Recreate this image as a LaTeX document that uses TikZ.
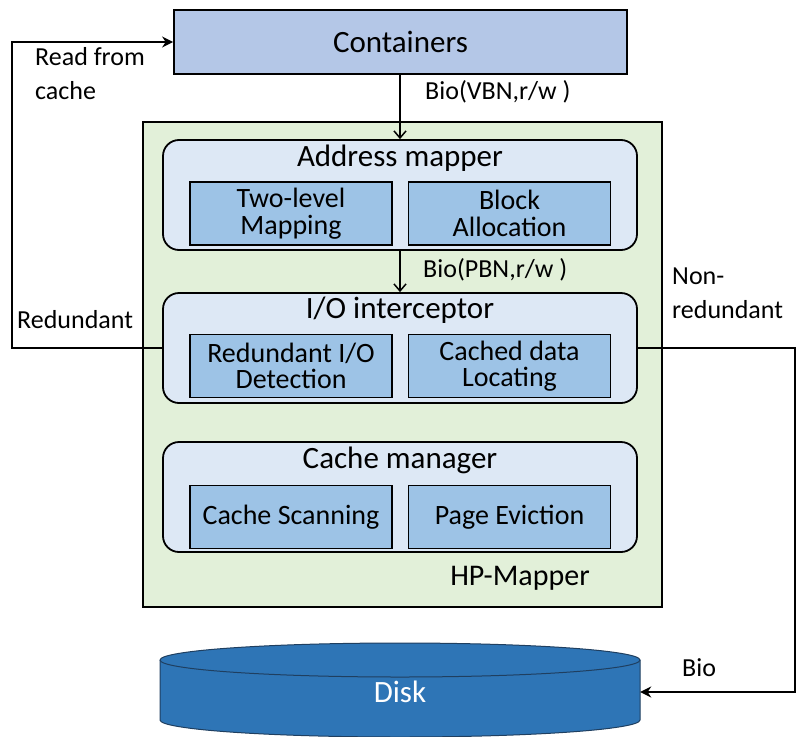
\documentclass[tikz,border=0pt]{standalone}
\usepackage{fontspec}
\setmainfont{Carlito}
\usetikzlibrary{positioning,arrows.meta}

\definecolor{contblue}{HTML}{B4C7E7}
\definecolor{mappergreen}{HTML}{E2F0D9}
\definecolor{layerblue}{HTML}{DDE8F5}
\definecolor{partblue}{HTML}{9DC3E6}
\definecolor{diskblue}{HTML}{2E75B6}
\definecolor{diskedge}{HTML}{1F3F60}

\begin{document}
\begin{tikzpicture}[x=1pt, y=-1pt,
    bigfont/.style={font=\fontsize{31}{34}\selectfont},
    labelfont/.style={font=\fontsize{26}{34}\selectfont, inner sep=0pt},
    layer/.style={draw, line width=1.8pt, fill=layerblue, rounded corners=16pt,
        minimum width=474, minimum height=110, inner sep=0pt},
    part/.style={draw, line width=1.8pt, fill=partblue, minimum width=202,
        minimum height=63, inner sep=0pt, align=center,
        font=\fontsize{28}{26.5}\selectfont},
    flow/.style={line width=1.5pt, -{Straight Barb[length=7pt, width=12pt, line width=1.5pt]}},
    side/.style={line width=1.5pt, -{Stealth[length=11pt, width=11pt]}}
]
    \useasboundingbox (0,0) rectangle (799,736);

    % Containers on top
    \node[draw, line width=1.8pt, fill=contblue, minimum width=453, minimum height=64,
        inner sep=0pt, bigfont] (cont) at (400.5,42) {Containers};

    % HP-Mapper frame
    \node[draw, line width=1.8pt, fill=mappergreen, minimum width=519, minimum height=485,
        inner sep=0pt] (hpm) at (402.5,364.5) {};
    \node[font=\fontsize{30}{32}\selectfont] (hpmname) at (520,578) {HP-Mapper};

    % Address mapper
    \node[layer] (addr) at (400,195) {};
    \node[bigfont] (addrtitle) at (400,158) {Address mapper};
    \node[part] (twolevel) at (291,213.5) {Two-level\\Mapping};
    \node[part] (alloc) at (509.5,213.5) {Block\\Allocation};

    % I/O interceptor
    \node[layer] (io) at (400,348) {};
    \node[bigfont] (iotitle) at (400,310) {I/O interceptor};
    \node[part] (detect) at (291,366) {Redundant I/O\\Detection};
    \node[part] (locate) at (509.5,366) {Cached data\\Locating};

    % Cache manager
    \node[layer] (cachem) at (400,497) {};
    \node[bigfont] (cachetitle) at (400,460) {Cache manager};
    \node[part] (scan) at (291,517) {Cache Scanning};
    \node[part] (evict) at (509.5,517) {Page Eviction};

    % Disk
    \fill[diskblue, draw=diskedge, line width=1pt] (160,660) -- (160,720)
        arc[start angle=180, end angle=360, x radius=240pt, y radius=17pt] -- (640,660)
        arc[start angle=0, end angle=180, x radius=240pt, y radius=17pt] -- cycle;
    \draw[diskedge, line width=1pt] (160,660)
        arc[start angle=180, end angle=360, x radius=240pt, y radius=17pt];
    \node[minimum width=480, minimum height=60, inner sep=0pt, text=white,
        font=\fontsize{31}{34}\selectfont] (disk) at (400,692) {Disk};

    % Bio flow downwards
    \draw[flow] (cont.south -| addr.north) -- (addr.north);
    \draw[flow] (addr.south) -- (io.north);
    \node[labelfont, anchor=west] (viobn) at (425,92) {Bio(VBN,r/w )};
    \node[labelfont, anchor=west] (piobn) at (423,270) {Bio(PBN,r/w )};

    % Redundant: read from cache
    \coordinate (lbend) at (12,348);
    \draw[side] (io.west) -- (lbend) |- (cont.west);
    \node[labelfont, anchor=north west, align=left] (readcache) at (35,47) {Read from\\cache};
    \node[labelfont, anchor=west] (redund) at (17,320) {Redundant};

    % Non-redundant: go to disk
    \coordinate (rbend) at (795,348);
    \draw[side] (io.east) -- (rbend) |- (disk.east);
    \node[labelfont, anchor=north west, align=left] (nonred) at (672,268) {Non-\\redundant};
    \node[labelfont, anchor=west] (diskbio) at (682,668) {Bio};
\end{tikzpicture}
\end{document}
